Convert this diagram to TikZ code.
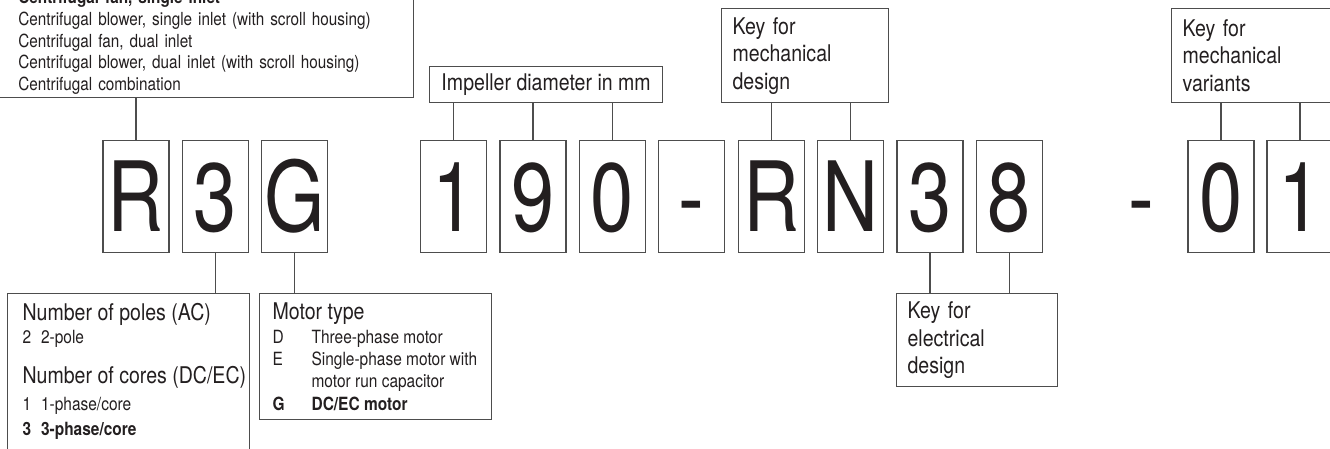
\documentclass[tikz,border=0pt]{standalone}
\usepackage{fontspec}
\setmainfont{TeX Gyre Heros}[FakeStretch=0.85]
\newfontfamily\glyphfont{TeX Gyre Heros}[FakeStretch=0.8]
\definecolor{ink}{HTML}{231F20}
\definecolor{rule}{HTML}{4D4D4D}
\newcommand{\headsize}{\fontsize{23}{27.5}\selectfont}
\newcommand{\itemsize}{\fontsize{18.2}{22}\selectfont}

\begin{document}
\begin{tikzpicture}[x=1pt, y=-1pt, line width=1.2pt, color=rule,
  charbox/.style={draw, minimum width=66pt, minimum height=112pt, inner sep=0pt,
    text height=70pt, text depth=0pt, text=ink,
    font={\glyphfont\fontsize{97}{97}\selectfont}},
  keybox/.style={draw, anchor=north west, inner xsep=11pt, inner ysep=0pt,
    align=left, text=ink, font=\headsize},
  head/.style={anchor=base west, inner sep=0pt, text=ink, font=\headsize},
  item/.style={anchor=base west, inner sep=0pt, text=ink, font=\itemsize}]

\useasboundingbox (0,0) rectangle (1330,448);
\clip (0,0) rectangle (1330,448);

% type code
\path (136,196.5) node[charbox] (d0) {R}
      (215.4,196.5) node[charbox] (d1) {3}
      (294.8,196.5) node[charbox] (d2) {G}
      (453.6,196.5) node[charbox] (d3) {1}
      (533,196.5) node[charbox] (d4) {9}
      (612.4,196.5) node[charbox] (d5) {0}
      (691.8,196.5) node[charbox] (d6) {-}
      (771.2,196.5) node[charbox] (d7) {R}
      (850.6,196.5) node[charbox] (d8) {N}
      (930,196.5) node[charbox] (d9) {3}
      (1009.4,196.5) node[charbox] (d10) {8}
      (1141,196.5) node[charbox, draw=none] (d11) {-}
      (1221,196.5) node[charbox] (d12) {0}
      (1300,196.5) node[charbox] (d13) {1};

% keys above
\path (414,98) node[keybox, anchor=south east, minimum height=110pt, text width=373pt,
        inner xsep=22pt, font={\fontsize{18}{21.7}\selectfont}] (fan)
        {\textbf{Centrifugal fan, single inlet}\\
         Centrifugal blower, single inlet (with scroll housing)\\
         Centrifugal fan, dual inlet\\
         Centrifugal blower, dual inlet (with scroll housing)\\
         Centrifugal combination}
      (429,66) node[keybox, minimum width=233pt, minimum height=36pt, inner xsep=0pt,
        align=center] (dia) {Impeller diameter in mm}
      (721,8) node[keybox, minimum height=94pt, text width=145pt] (mech)
        {Key for\\mechanical\\design}
      (1171,8) node[keybox, minimum height=94pt, text width=145pt] (var)
        {Key for\\mechanical\\variants};

% keys below
\path (7,293) node[keybox, minimum width=242pt, minimum height=180pt] (poles) {}
      (259,293) node[keybox, minimum width=232pt, minimum height=126pt] (motor) {}
      (896,293) node[keybox, minimum height=93pt, text width=139pt] (elec)
        {Key for\\electrical\\design};

\path (22,320) node[head] (p0) {Number of poles (AC)}
      (22,343) node[item] (p1) {\makebox[18.5pt][l]{2}2-pole}
      (22,383) node[head] (p2) {Number of cores (DC/EC)}
      (22,410) node[item] (p3) {\makebox[18.5pt][l]{1}1-phase/core}
      (22,435) node[item, font=\itemsize\bfseries] (p4) {\makebox[18.5pt][l]{3}3-phase/core};

\path (272,319) node[head] (m0) {Motor type}
      (272,343) node[item] (m1) {\makebox[39pt][l]{D}Three-phase motor}
      (272,365) node[item] (m2) {\makebox[39pt][l]{E}Single-phase motor with}
      (311,387) node[item] (m3) {motor run capacitor}
      (272,410) node[item, font=\itemsize\bfseries] (m4) {\makebox[39pt][l]{G}DC/EC motor};

% connectors
\draw (d0.north) -- (d0.north |- fan.south);
\draw (d3.north) -- (d3.north |- dia.south);
\draw (d4.north) -- (d4.north |- dia.south);
\draw (d5.north) -- (d5.north |- dia.south);
\draw (d7.north) -- (d7.north |- mech.south);
\draw (d8.north) -- (d8.north |- mech.south);
\draw (d12.north) -- (d12.north |- var.south);
\draw (d13.north) -- (d13.north |- var.south);
\draw (d1.south) -- (d1.south |- poles.north);
\draw (d2.south) -- (d2.south |- motor.north);
\draw (d9.south) -- (d9.south |- elec.north);
\draw (d10.south) -- (d10.south |- elec.north);

\end{tikzpicture}
\end{document}
